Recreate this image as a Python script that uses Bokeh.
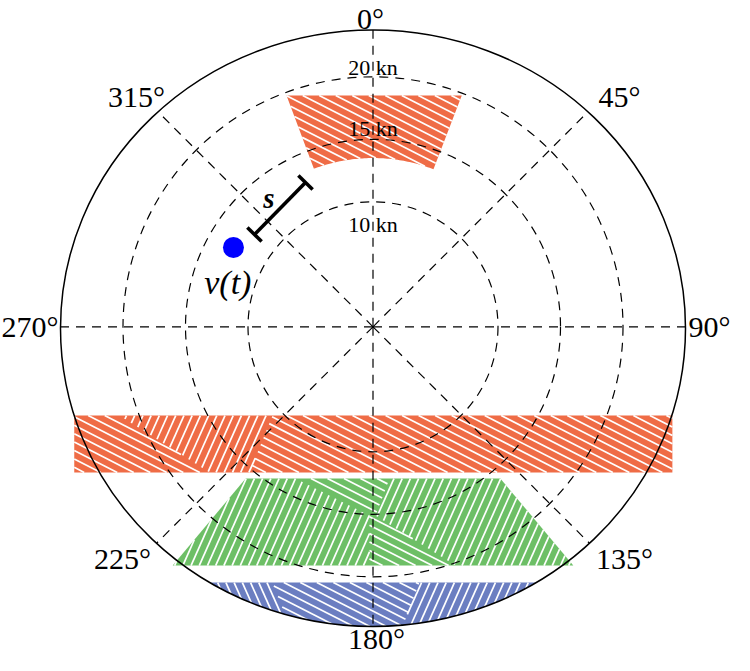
import numpy as np
from bokeh.plotting import figure
from bokeh.models import Range1d
from bokeh.embed import file_html
from bokeh.resources import INLINE
from bokeh.core.properties import value

# ---------------- data (speeds in kn, headings in degrees) ----------------
RMAX = 25.0
RING_SPEEDS = [10, 15, 20]
RING_LABELS = ["10 kn", "15 kn", "20 kn"]
HEADINGS = [0, 45, 90, 135, 180, 225, 270, 315]
HEADING_LABELS = ["0°", "45°", "90°", "135°", "180°", "225°", "270°", "315°"]

# orange sector at the top
TOP_HEADINGS = [-20.5, 21.0]
TOP_R_INNER = 13.5
TOP_Y_CUT = 18.5

# orange band
BAND_X = [-23.9, 23.95]
BAND_Y = [-11.65, -7.1]

# green sector
GREEN_HEADINGS = [140.0, 220.0]
GREEN_Y = [-19.1, -12.14]

# blue cap
BLUE_Y_TOP = -20.46

# velocity nu(t)
NU_SPEED = 12.84
NU_HEADING = 299.6

# margin s
S_START = [-9.48, 7.38]
S_END = [-5.40, 11.54]

# hatch sub-pieces (overlapping patches with other hatch directions)
BAND_STEEP_X = [-20.28, -8.04, -9.88, -13.08]
BAND_STEEP_Y = [-7.1, -7.1, -11.65, -11.65]
GREEN_A_X = [-6.2, 1.32, 0.2, -0.28]
GREEN_A_Y = [-12.14, -12.14, -15.1, -15.1]
GREEN_B_X = [-0.28, 0.2, 6.6, -0.28]
GREEN_B_Y = [-15.1, -15.1, -19.1, -19.1]
BLUE_LEFT_X = [-16.0, -8.04, -6.04, -16.0]
BLUE_LEFT_Y = [-20.46, -20.46, -25.5, -25.5]
BLUE_RIGHT_X = [3.72, 16.0, 16.0, 1.8]
BLUE_RIGHT_Y = [-20.46, -20.46, -25.5, -25.5]

# ---------------- style ----------------
W, H = 734, 655
PX = 12.5                      # pixels per kn
CXP, CYP = 372.5, 326.3        # centre in canvas pixels
SPINE_CY = -0.116
SPINE_B = 23.86
ORANGE, GREEN, BLUE = "#EF6C46", "#6DBF66", "#6B7EC1"
SHALLOW, STEEP, STEEP_L = -27.0, 66.0, -66.0
HATCH_SP = 0.6
SERIF = value("Liberation Serif")
# label centre offsets from the pole, in pixels (right, up)
LABEL_OFF_PX = [(-2.5, 308.7), (246.5, 230.3), (336.5, 0.0), (251.5, -231.7),
                (3.5, -311.8), (-250.5, -231.7), (-343.0, 0.0), (-236.5, 230.3)]
RLABEL_DY_PX = [-23, 11, 9]

p = figure(width=W, height=H, output_backend="svg", toolbar_location=None,
           x_range=Range1d(-CXP / PX, (W - CXP) / PX),
           y_range=Range1d(-(H - CYP) / PX, CYP / PX),
           x_axis_type=None, y_axis_type=None, min_border=0,
           outline_line_color=None, background_fill_color="white",
           border_fill_color="white")
p.grid.visible = False

A, B = RMAX, SPINE_B


def hdg(h):
    t = np.radians(h)
    return np.sin(t), np.cos(t)


# ---- regions ----
hs = np.linspace(TOP_HEADINGS[0], TOP_HEADINGS[1], 60)
sx, cy_ = hdg(hs)
top_x = list(TOP_R_INNER * sx) + [TOP_Y_CUT * np.tan(np.radians(TOP_HEADINGS[1])),
                                   TOP_Y_CUT * np.tan(np.radians(TOP_HEADINGS[0]))]
top_y = list(TOP_R_INNER * cy_) + [TOP_Y_CUT, TOP_Y_CUT]

band_x = [BAND_X[0], BAND_X[1], BAND_X[1], BAND_X[0]]
band_y = [BAND_Y[1], BAND_Y[1], BAND_Y[0], BAND_Y[0]]

tg = np.tan(np.radians(GREEN_HEADINGS))
green_x = [GREEN_Y[1] * tg[1], GREEN_Y[1] * tg[0], GREEN_Y[0] * tg[0], GREEN_Y[0] * tg[1]]
green_y = [GREEN_Y[1], GREEN_Y[1], GREEN_Y[0], GREEN_Y[0]]

phi0 = np.arccos((BLUE_Y_TOP - SPINE_CY) / B)
ph = np.linspace(phi0, 2 * np.pi - phi0, 120)
blue_x = list(A * np.sin(ph))
blue_y = list(SPINE_CY + B * np.cos(ph))

for xs_, ys_, col in [(top_x, top_y, ORANGE), (band_x, band_y, ORANGE),
                      (green_x, green_y, GREEN), (blue_x, blue_y, BLUE)]:
    p.patch(xs_, ys_, fill_color=col, line_color=None)


# ---- hatching ----
def hits(poly, p0, u):
    ts = []
    n = len(poly)
    for i in range(n):
        a = poly[i]
        b = poly[(i + 1) % n]
        d = b - a
        det = -u[0] * d[1] + d[0] * u[1]
        if abs(det) < 1e-12:
            continue
        w = a - p0
        t = (-w[0] * d[1] + d[0] * w[1]) / det
        s = (u[0] * w[1] - u[1] * w[0]) / det
        if 0 <= s < 1:
            ts.append(t)
    ts.sort()
    return [(ts[i], ts[i + 1]) for i in range(0, len(ts) - 1, 2)]


def inter(P, Q):
    out = []
    for a0, a1 in P:
        for b0, b1 in Q:
            lo, hi = max(a0, b0), min(a1, b1)
            if hi > lo:
                out.append((lo, hi))
    return out


def subtract(P, Q):
    out = P
    for b0, b1 in Q:
        nxt = []
        for a0, a1 in out:
            if b1 <= a0 or b0 >= a1:
                nxt.append((a0, a1))
                continue
            if b0 > a0:
                nxt.append((a0, b0))
            if b1 < a1:
                nxt.append((b1, a1))
        out = nxt
    return out


hx, hy = [], []


def hatch(rx, ry, default_angle, pieces):
    region = np.column_stack([rx, ry])
    pcs = [(np.column_stack([px_, py_]), ang) for px_, py_, ang in pieces]
    for poly, ang in [(None, default_angle)] + pcs:
        th = np.radians(ang)
        u = np.array([np.cos(th), np.sin(th)])
        nrm = np.array([-u[1], u[0]])
        proj = region @ nrm
        c = np.floor(proj.min() / HATCH_SP) * HATCH_SP + 0.13
        while c <= proj.max():
            p0 = c * nrm
            iv = hits(region, p0, u)
            if poly is None:
                for pp, _ in pcs:
                    iv = subtract(iv, hits(pp, p0, u))
            else:
                iv = inter(iv, hits(poly, p0, u))
            for t0, t1 in iv:
                hx.append([p0[0] + t0 * u[0], p0[0] + t1 * u[0]])
                hy.append([p0[1] + t0 * u[1], p0[1] + t1 * u[1]])
            c += HATCH_SP


hatch(top_x, top_y, SHALLOW, [])
hatch(band_x, band_y, SHALLOW, [(BAND_STEEP_X, BAND_STEEP_Y, STEEP)])
hatch(green_x, green_y, STEEP, [(GREEN_A_X, GREEN_A_Y, SHALLOW),
                                (GREEN_B_X, GREEN_B_Y, SHALLOW)])
hatch(blue_x, blue_y, SHALLOW, [(BLUE_LEFT_X, BLUE_LEFT_Y, STEEP_L),
                                (BLUE_RIGHT_X, BLUE_RIGHT_Y, STEEP)])
p.multi_line(hx, hy, line_color="white", line_width=1.7)

# ---- grid ----
DASH = "9 7"
p.circle(x=[0] * len(RING_SPEEDS), y=[0] * len(RING_SPEEDS), radius=RING_SPEEDS,
         fill_color=None, line_color="black", line_width=1.2, line_dash=DASH)

ends_x, ends_y = [], []
for h in HEADINGS:
    s_, c_ = hdg(h)
    qa = s_ ** 2 / A ** 2 + c_ ** 2 / B ** 2
    qb = -2 * c_ * SPINE_CY / B ** 2
    qc = SPINE_CY ** 2 / B ** 2 - 1
    r = (-qb + np.sqrt(qb ** 2 - 4 * qa * qc)) / (2 * qa)
    ends_x.append(r * s_)
    ends_y.append(r * c_)
p.segment(x0=[0] * len(HEADINGS), y0=[0] * len(HEADINGS), x1=ends_x, y1=ends_y,
          line_color="black", line_width=1.2, line_dash=DASH)

p.ellipse(x=[0], y=[SPINE_CY], width=[2 * A], height=[2 * B],
          fill_color=None, line_color="black", line_width=1.5)

# ---- labels ----
p.text(x=[o[0] / PX for o in LABEL_OFF_PX], y=[o[1] / PX for o in LABEL_OFF_PX],
       text=HEADING_LABELS, text_font=SERIF, text_font_size="30px",
       text_align="center", text_baseline="middle", text_color="black")

p.text(x=[0] * len(RING_SPEEDS),
       y=[r + dy / PX for r, dy in zip(RING_SPEEDS, RLABEL_DY_PX)],
       text=RING_LABELS, text_font=SERIF, text_font_size="22px",
       text_align="center", text_baseline="middle", text_color="black")

# ---- s margin bar ----
sa, sb = np.array(S_START), np.array(S_END)
dv = (sb - sa) / np.linalg.norm(sb - sa)
nv = np.array([-dv[1], dv[0]])
CAP = 0.8
bx0 = [sa[0], sa[0] - CAP * nv[0], sb[0] - CAP * nv[0]]
by0 = [sa[1], sa[1] - CAP * nv[1], sb[1] - CAP * nv[1]]
bx1 = [sb[0], sa[0] + CAP * nv[0], sb[0] + CAP * nv[0]]
by1 = [sb[1], sa[1] + CAP * nv[1], sb[1] + CAP * nv[1]]
p.segment(x0=bx0, y0=by0, x1=bx1, y1=by1, line_color="black", line_width=3.6)
mid = (sa + sb) / 2 + 1.25 * nv
p.text(x=[mid[0]], y=[mid[1]], text=["s"], text_font=SERIF, text_font_size="29px",
       text_font_style="bold italic", text_align="center", text_baseline="middle")

# ---- nu(t) ----
ns, nc = hdg(NU_HEADING)
nux, nuy = NU_SPEED * ns, NU_SPEED * nc
p.scatter(x=[nux], y=[nuy], size=21, fill_color="#0000FF", line_color=None)
p.text(x=[nux - 0.45], y=[nuy - 2.8], text=["ν(t)"], text_font=SERIF,
       text_font_size="34px", text_font_style="italic",
       text_align="center", text_baseline="middle")

open("out.html", "w").write(file_html(p, INLINE))
